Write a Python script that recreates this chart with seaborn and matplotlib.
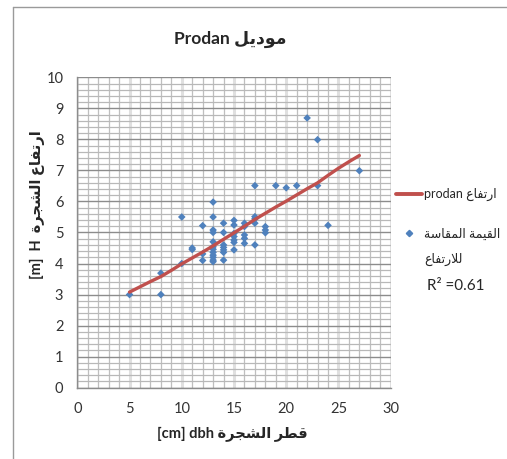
import matplotlib
matplotlib.use('Agg')
import matplotlib.pyplot as plt
import seaborn as sns
from matplotlib.lines import Line2D
from matplotlib.ticker import MultipleLocator

# measured trees: dbh [cm] and height [m]
dbh = [5, 8, 8, 10, 10, 11, 11, 12, 12, 12,
       13, 13, 13, 13, 13, 13, 13, 13, 13, 13, 13, 13,
       14, 14, 14, 14, 14, 14, 14,
       15, 15, 15, 15, 15, 15, 15,
       16, 16, 16, 16, 16,
       17, 17, 17, 17, 17,
       18, 18, 18, 19, 20, 21, 22, 23, 23, 24, 27]
height = [3.0, 3.69, 3.0, 5.5, 4.0, 4.5, 4.45, 5.22, 4.31, 4.1,
          5.98, 5.5, 5.08, 5.0, 4.7, 4.54, 4.46, 4.36, 4.27, 4.2, 4.11, 4.06,
          5.3, 5.0, 4.6, 4.52, 4.44, 4.36, 4.11,
          5.39, 5.24, 4.97, 4.87, 4.76, 4.68, 4.44,
          5.3, 5.19, 4.92, 4.81, 4.65,
          6.51, 5.51, 5.44, 5.3, 4.6,
          5.19, 5.08, 4.99, 6.51, 6.44, 6.51, 8.69, 7.99, 6.51, 5.23, 6.99]

# prodan model curve
model_dbh = [5, 6, 7, 8, 9, 10, 11, 12, 13, 14, 15, 16,
             17, 18, 19, 20, 21, 22, 23, 24, 25, 26, 27]
model_height = [3.08, 3.25, 3.42, 3.58, 3.78, 3.99, 4.18, 4.37, 4.57, 4.78, 4.99, 5.2,
                5.42, 5.62, 5.82, 6.01, 6.21, 6.41, 6.6, 6.84, 7.07, 7.28, 7.48]

r2_text = 'R\u00b2 =0.61'

# minimal arabic shaping (matplotlib has no text shaping / bidi)
FORMS = {
    'ا': ('\uFE8D', '\uFE8E', None, None),
    'ت': ('\uFE95', '\uFE96', '\uFE97', '\uFE98'),
    'ة': ('\uFE93', '\uFE94', None, None),
    'ج': ('\uFE9D', '\uFE9E', '\uFE9F', '\uFEA0'),
    'د': ('\uFEA9', '\uFEAA', None, None),
    'ر': ('\uFEAD', '\uFEAE', None, None),
    'س': ('\uFEB1', '\uFEB2', '\uFEB3', '\uFEB4'),
    'ش': ('\uFEB5', '\uFEB6', '\uFEB7', '\uFEB8'),
    'ط': ('\uFEC1', '\uFEC2', '\uFEC3', '\uFEC4'),
    'ع': ('\uFEC9', '\uFECA', '\uFECB', '\uFECC'),
    'ف': ('\uFED1', '\uFED2', '\uFED3', '\uFED4'),
    'ق': ('\uFED5', '\uFED6', '\uFED7', '\uFED8'),
    'ل': ('\uFEDD', '\uFEDE', '\uFEDF', '\uFEE0'),
    'م': ('\uFEE1', '\uFEE2', '\uFEE3', '\uFEE4'),
    'و': ('\uFEED', '\uFEEE', None, None),
    'ي': ('\uFEF1', '\uFEF2', '\uFEF3', '\uFEF4'),
}


def ar(s):
    out = []
    prev = False
    i = 0
    while i < len(s):
        c = s[i]
        if c == 'ل' and i + 1 < len(s) and s[i + 1] == 'ا':
            out.append('\uFEFC' if prev else '\uFEFB')
            prev = False
            i += 2
            continue
        if c not in FORMS:
            out.append(c)
            prev = False
            i += 1
            continue
        iso, fin, ini, med = FORMS[c]
        nxt = s[i + 1] if i + 1 < len(s) else None
        fwd = ini is not None and nxt in FORMS
        if prev and fwd:
            out.append(med)
        elif prev:
            out.append(fin)
        elif fwd:
            out.append(ini)
        else:
            out.append(iso)
        prev = fwd
        i += 1
    return ''.join(out)[::-1]


sns.set_style('white')
plt.rcParams['font.family'] = ['Lato', 'DejaVu Sans']

W, H = 507, 459
fig = plt.figure(figsize=(W / 100, H / 100), dpi=100)
ax = fig.add_axes([77.3 / W, 1 - 387.7 / H, (390.7 - 77.3) / W, (387.7 - 77.3) / H])

sns.scatterplot(x=dbh, y=height, marker='D', s=15, color='#4F81BD', edgecolor='none',
                ax=ax, zorder=3)
sns.lineplot(x=model_dbh, y=model_height, color='#C0504D', lw=2.4, ax=ax, zorder=4)

ax.set_xlim(0, 30)
ax.set_ylim(0, 10)
ax.xaxis.set_major_locator(MultipleLocator(5))
ax.xaxis.set_minor_locator(MultipleLocator(1))
ax.yaxis.set_major_locator(MultipleLocator(1))
ax.yaxis.set_minor_locator(MultipleLocator(0.2))

ax.grid(which='major', axis='y', color='#8c8c8c', lw=1)
ax.grid(which='minor', axis='y', color='#b8b8b8', lw=0.9)
ax.grid(which='minor', axis='x', color='#bfbfbf', lw=0.9)
ax.grid(which='major', axis='x', color='#e0e0e0', lw=2.2)
ax.set_axisbelow(True)

for side in ['top', 'right']:
    ax.spines[side].set_visible(False)
for side in ['left', 'bottom']:
    ax.spines[side].set_color('#8c8c8c')
    ax.spines[side].set_linewidth(1)

ax.tick_params(which='major', direction='out', length=4, width=1, color='#8c8c8c',
               labelsize=10.5, labelcolor='#333333', pad=6)
ax.tick_params(which='minor', length=0)
ax.set_xlabel('')
ax.set_ylabel('')

# legend
handles = [Line2D([], [], color='#C0504D', lw=2.8),
           Line2D([], [], marker='D', ls='none', color='#4F81BD', markersize=3.2)]
labels = ['prodan ' + ar('ارتفاع'), ar('القيمة المقاسة')]
fig.legend(handles, labels, loc='upper left', bbox_to_anchor=(396 / W, 1 - 188 / H),
           frameon=False, handlelength=2.1, handletextpad=0.15, labelspacing=2.1,
           borderpad=0, borderaxespad=0, prop=dict(family=['Lato', 'DejaVu Sans'], size=9))
fig.text(424 / W, 1 - 259 / H, ar('للارتفاع'), ha='left', va='center', fontsize=9)
fig.text(427 / W, 1 - 286 / H, r2_text, ha='left', va='center', fontsize=11)

fig.text(230 / W, 1 - 39 / H, 'Prodan ' + ar('موديل'), ha='center', va='center',
         fontsize=12.5, weight='bold')
fig.text(232 / W, 1 - 434 / H, '[cm] dbh ' + ar('قطر الشجرة'), ha='center', va='center',
         fontsize=10.5, weight='bold')
fig.text(37 / W, 1 - 205 / H, '[m]  H  ' + ar('ارتفاع الشجرة'), ha='center', va='center',
         rotation=90, fontsize=10.5, weight='bold')

# chart area border
fig.add_artist(Line2D([12.7 / W, 12.7 / W], [0, 1 - 7 / H], transform=fig.transFigure,
                      color='#9a9a9a', lw=1))
fig.add_artist(Line2D([12.7 / W, 1], [1 - 7 / H, 1 - 7 / H], transform=fig.transFigure,
                      color='#9a9a9a', lw=1))

fig.savefig('out.png', dpi=100)
